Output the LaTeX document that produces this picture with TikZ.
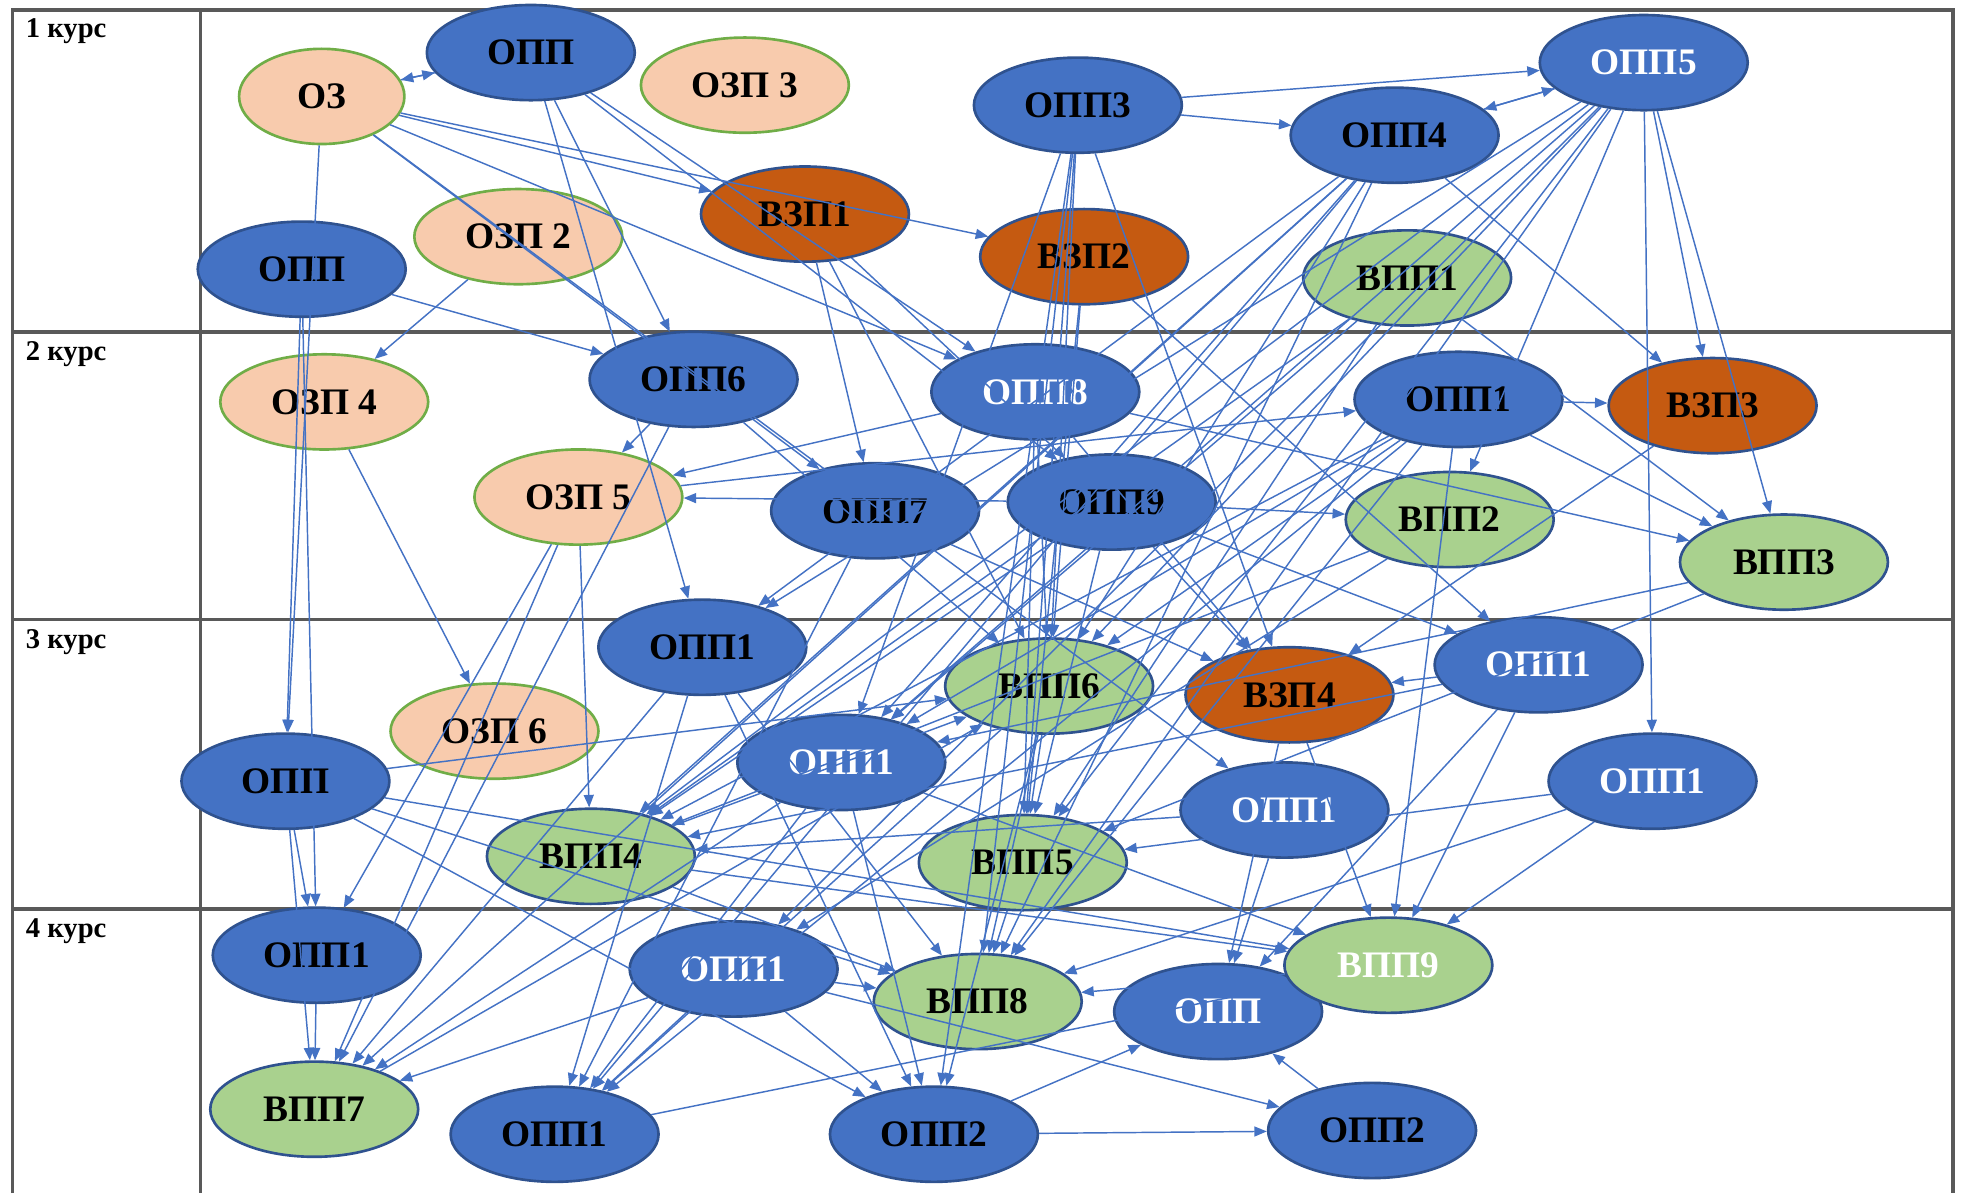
\documentclass[tikz,border=0pt]{standalone}
\usepackage{fontspec}
\setmainfont{Liberation Serif}
\usetikzlibrary{arrows.meta,shapes.geometric}
\definecolor{oppblue}{HTML}{4472C4}
\definecolor{oppedge}{HTML}{2F528F}
\definecolor{ozpfill}{HTML}{F8CBAD}
\definecolor{ozpedge}{HTML}{70AD47}
\definecolor{vzpfill}{HTML}{C55A11}
\definecolor{vppfill}{HTML}{A9D18E}
\definecolor{gridgray}{HTML}{595959}
\begin{document}
\begin{tikzpicture}[x=0.01cm,y=-0.01cm,
    base/.style={ellipse,inner sep=0pt,minimum width=1.66cm,minimum height=0.76cm,line width=0.6pt,font=\bfseries\fontsize{8.5}{9}\selectfont},
    opp/.style={base,fill=oppblue,draw=oppedge},
    oppw/.style={opp,text=white},
    ozp/.style={base,fill=ozpfill,draw=ozpedge},
    vzp/.style={base,fill=vzpfill,draw=oppedge},
    vpp/.style={base,fill=vppfill,draw=oppedge},
    vppw/.style={vpp,text=white},
    year/.style={anchor=north west,inner sep=0pt,font=\bfseries\fontsize{6.5}{7}\selectfont},
    link/.style={draw=oppblue,line width=0.33pt,-{Triangle[length=1mm,width=0.8mm]}}]
    \useasboundingbox (0,0) rectangle (1568,953);
    % table
    \draw[gridgray,line width=0.8pt] (10,953) -- (10,8) -- (1560,8) -- (1560,953);
    \draw[gridgray,line width=0.8pt] (160,8) -- (160,953);
    \foreach \y in {265,495,726}
        \draw[gridgray,line width=0.8pt] (10,\y) -- (1560,\y);
    \node[year] (k1) at (20,14) {1 курс};
    \node[year] (k2) at (20,272) {2 курс};
    \node[year] (k3) at (20,502) {3 курс};
    \node[year] (k4) at (20,733) {4 курс};
    % 1 курс
    \node[ozp,minimum width=1.32cm] (oz) at (257,77) {ОЗ};
    \node[opp] (oppA) at (424,42) {ОПП};
    \node[ozp] (ozp3) at (595,68) {ОЗП 3};
    \node[opp] (oppB) at (241,215) {ОПП};
    \node[ozp] (ozp2) at (414,189) {ОЗП 2};
    \node[vzp] (vzp1) at (643,171) {ВЗП1};
    \node[opp] (opp3) at (861,84) {ОПП3};
    \node[vzp] (vzp2) at (866,205) {ВЗП2};
    \node[opp] (opp4) at (1114,108) {ОПП4};
    \node[oppw] (opp5) at (1313,50) {ОПП5};
    \node[vpp] (vpp1) at (1124,222) {ВПП1};
    % 2 курс
    \node[ozp] (ozp4) at (259,321) {ОЗП 4};
    \node[opp] (opp6) at (554,303) {ОПП6};
    \node[oppw] (opp8) at (827,313) {ОПП8};
    \node[opp] (opp1a) at (1165,319) {ОПП1};
    \node[vzp] (vzp3) at (1368,324) {ВЗП3};
    \node[ozp] (ozp5) at (462,397) {ОЗП 5};
    \node[opp] (opp7) at (699,408) {ОПП7};
    \node[opp] (opp9) at (888,401) {ОПП9};
    \node[vpp] (vpp2) at (1158,415) {ВПП2};
    \node[vpp] (vpp3) at (1425,449) {ВПП3};
    % 3 курс
    \node[opp] (opp1b) at (561,517) {ОПП1};
    \node[vpp] (vpp6) at (838,548) {ВПП6};
    \node[vzp] (vzp4) at (1030,555) {ВЗП4};
    \node[oppw] (opp1c) at (1229,531) {ОПП1};
    \node[ozp] (ozp6) at (395,584) {ОЗП 6};
    \node[opp] (oppC) at (228,624) {ОПП};
    \node[oppw] (opp1d) at (672,609) {ОПП1};
    \node[oppw] (opp1e) at (1026,647) {ОПП1};
    \node[oppw] (opp1f) at (1320,624) {ОПП1};
    \node[vpp] (vpp4) at (472,684) {ВПП4};
    \node[vpp] (vpp5) at (817,689) {ВПП5};
    % 4 курс
    \node[opp] (opp1g) at (253,763) {ОПП1};
    \node[oppw] (opp1h) at (586,774) {ОПП1};
    \node[vpp] (vpp8) at (781,800) {ВПП8};
    \node[oppw] (oppD) at (973,808) {ОПП};
    \node[vppw] (vpp9) at (1109,771) {ВПП9};
    \node[vpp] (vpp7) at (251,886) {ВПП7};
    \node[opp] (opp1i) at (443,906) {ОПП1};
    \node[opp] (opp2a) at (746,906) {ОПП2};
    \node[opp] (opp2b) at (1096,903) {ОПП2};
    % связи
    \foreach \a/\b in {oppA/oz, oz/oppA, oz/vzp1, oz/vzp2, opp3/opp5, opp4/opp5, opp3/opp4, opp5/opp4,
        ozp2/ozp4, oppA/opp6, oppA/opp8, opp4/vzp3, opp5/vzp3, opp1a/vzp3, vpp1/vpp3, opp5/vpp3,
        opp8/vpp3, opp1a/vpp3, opp5/vpp2, opp9/vpp2, ozp5/opp1a, vzp1/opp9, opp8/ozp5, opp6/ozp5,
        opp9/ozp5, oz/opp7, oppB/opp6, oz/opp8, oppA/opp9, vzp1/opp7,
        ozp4/ozp6, oppB/oppC, oz/oppC, ozp5/vpp4, opp5/vpp4, opp4/vpp4, opp1a/vpp4, vpp1/vpp4,
        opp9/vpp4, opp1e/vpp4, opp1c/vpp4, vpp2/vpp4, oppC/vpp6, opp5/opp1d, opp4/opp1d, opp3/opp1d,
        vpp3/opp1d, vpp4/vpp6, vpp7/vpp6, opp6/vpp6, vzp1/vpp6, opp8/vpp6, opp3/vpp6, opp7/vzp4,
        opp3/vzp4, opp8/vzp4, opp9/vzp4, vzp3/vzp4, opp1c/vzp4, opp9/opp1c, vzp2/opp1c, opp5/opp1f,
        opp8/vpp5, opp9/vpp5, vpp6/vpp5, opp3/vpp5, vzp2/vpp5, opp1f/vpp5, oz/opp1e, oppA/opp1b,
        opp5/opp1b, opp5/vpp6, opp5/vpp5, opp4/opp1b, opp4/vpp6, opp1a/opp1d, opp1a/vpp6,
        vpp1/opp1d, vpp1/vpp5, vzp2/vpp6,
        ozp5/opp1g, oppC/opp1g, oppB/opp1g, oppC/vpp7, opp1g/vpp7, ozp5/vpp7, opp6/vpp7, opp1b/vpp7,
        opp1d/vpp7, opp1h/vpp7, opp1b/opp1i, opp7/opp1i, opp1d/opp1i, vpp6/opp1i, opp1h/opp1i,
        oppC/opp2a, opp1b/opp2a, opp1h/opp2a, opp1d/opp2a, vpp6/opp2a,
        opp1h/vpp8, vpp4/vpp8, opp1b/vpp8, oppC/vpp8, vpp5/vpp8, vpp6/vpp8, vpp9/vpp8, opp1f/vpp8,
        vzp4/oppD, opp1e/oppD, opp1c/oppD, opp2a/oppD, opp2b/oppD,
        opp1i/vpp9, opp1d/vpp9, vpp4/vpp9, oppC/vpp9, vzp4/vpp9, opp1c/vpp9, opp1f/vpp9, opp1a/vpp9,
        opp1h/opp2b, opp2a/opp2b,
        opp5/vpp8, opp5/opp1h, opp4/vpp8, opp4/opp1i, opp4/vpp7, opp1a/vpp8, opp1a/opp1i,
        opp3/vpp8, opp3/opp2a, vpp2/opp1h, vpp3/vpp5}
        \draw[link] (\a) -- (\b);
\end{tikzpicture}
\end{document}
